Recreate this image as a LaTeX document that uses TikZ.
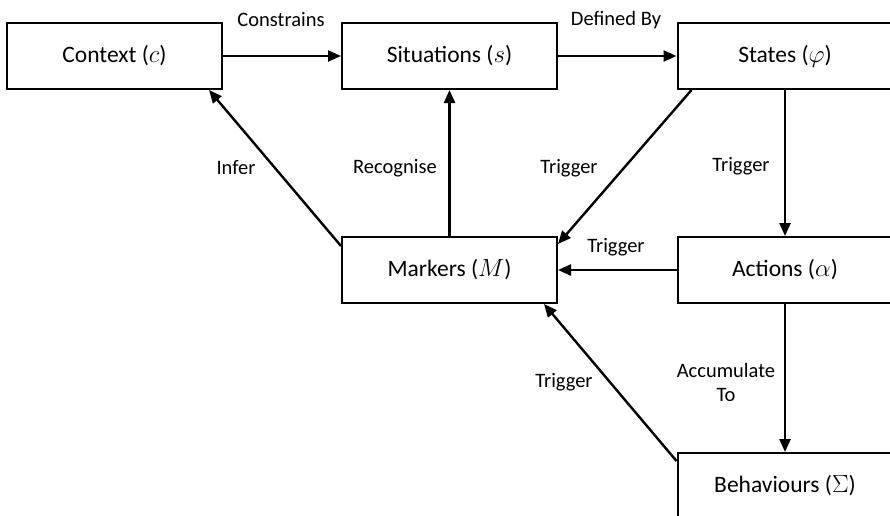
\documentclass[tikz,border=0pt]{standalone}
\usepackage{fontspec}
\setmainfont{Carlito}
\usetikzlibrary{arrows.meta}

\tikzset{
	box/.style={draw, line width=2pt, minimum width=215pt, minimum height=66pt,
		inner sep=0pt, font=\fontsize{23.5}{27}\selectfont},
	arr/.style={line width=2.4pt, -{Triangle[length=13pt,width=11pt]}},
	lbl/.style={inner sep=1pt, align=center, font=\fontsize{20.5}{24}\selectfont}
}

\begin{document}
\begin{tikzpicture}[x=1pt,y=-1pt]
	
	% Frame, the right and bottom boxes run off the edge
	\useasboundingbox (0,0) rectangle (890,515);
	\clip (0,0) rectangle (890,515);
	
	% Boxes
	\node[box] (ctx) at (114.5,56) {Context ($c$)};
	\node[box] (sit) at (449.5,56) {Situations ($s$)};
	\node[box] (sta) at (785,56) {States ($\varphi$)};
	\node[box] (mrk) at (449.5,270) {Markers ($M$)};
	\node[box] (act) at (785,270) {Actions ($\alpha$)};
	\node[box] (beh) at (785,486) {Behaviours ($\Sigma$)};
	
	% Arrows
	\draw[arr] (ctx) -- (sit);
	\draw[arr] (sit) -- (sta);
	\draw[arr] (mrk) -- (sit);
	\draw[arr] ([yshift=-10pt]mrk.north west) -- ([xshift=-14pt]ctx.south east);
	\draw[arr] ([xshift=15pt]sta.south west) -- ([yshift=-8pt]mrk.north east);
	\draw[arr] (sta) -- (act);
	\draw[arr] (act) -- (mrk);
	\draw[arr] (act) -- (beh);
	\draw[arr] ([yshift=-9pt]beh.north west) -- ([xshift=-14pt]mrk.south east);
	
	% Labels
	\node[lbl] (lconstr) at (281,20) {Constrains};
	\node[lbl] (ldef) at (616,20) {Defined By};
	\node[lbl] (linfer) at (236,168) {Infer};
	\node[lbl] (lrecog) at (395,168) {Recognise};
	\node[lbl] (ltrigsm) at (569,168) {Trigger};
	\node[lbl] (ltrigsa) at (741,166) {Trigger};
	\node[lbl] (ltrigam) at (616,247) {Trigger};
	\node[lbl] (laccum) at (726,382) {Accumulate\\To};
	\node[lbl] (ltrigbm) at (564,382) {Trigger};
	
\end{tikzpicture}
\end{document}
